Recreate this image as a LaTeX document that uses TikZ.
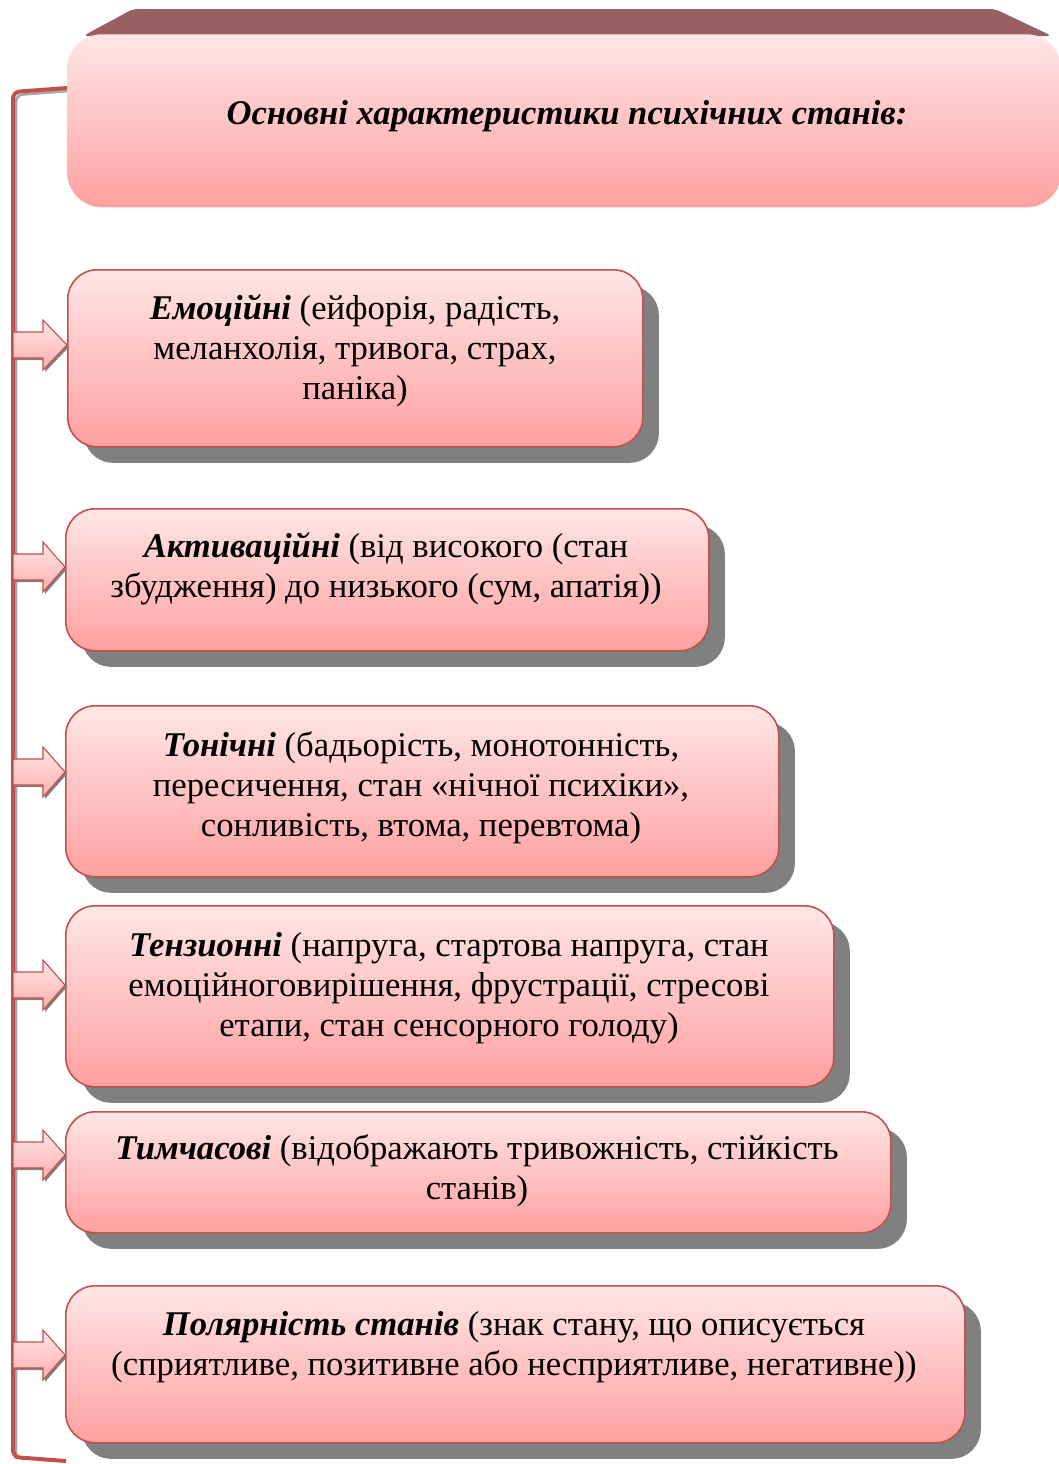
\documentclass[tikz,border=0pt]{standalone}
\usepackage{fontspec}
\setmainfont{Liberation Serif}
\usetikzlibrary{shadows,calc}
\definecolor{boxred}{HTML}{C0504D}
\definecolor{ptop}{HTML}{FFE6E6}
\definecolor{pbot}{HTML}{FFA0A0}
\definecolor{bevel}{HTML}{986060}
\definecolor{shgray}{HTML}{808080}
\tikzset{
  box/.style={draw=boxred, line width=1.2pt, rounded corners=22pt, top color=ptop, bottom color=pbot,
    anchor=north west, inner sep=0pt,
    drop shadow={shadow xshift=12pt, shadow yshift=-12pt, fill=shgray, opacity=1}},
  hdr/.style={rounded corners=26pt, top color=ptop, bottom color=pbot, anchor=north west, inner sep=0pt},
  txt/.style={align=center, font=\fontsize{26}{30}\selectfont, inner sep=0pt},
  htxt/.style={font=\fontsize{26}{30}\selectfont\bfseries\itshape, inner sep=0pt},
  barr/.style={draw=boxred, line width=0.8pt, top color=ptop, bottom color=pbot!80!ptop,
    drop shadow={shadow xshift=1.5pt, shadow yshift=-1.5pt, fill=shgray, opacity=1}},
  bracket/.style={draw=boxred, line width=3pt, rounded corners=5pt},
  brshadow/.style={draw=shgray!70, line width=2pt, rounded corners=5pt},
}
\newcommand\blockarr[2]{%
  \path[barr] (13,#2-13) -- (43,#2-13) -- (43,#2-25) -- (#1.west |- 0,#2) -- (43,#2+25) -- (43,#2+13) -- (13,#2+13) -- cycle;}
\begin{document}
\begin{tikzpicture}[x=0.75pt,y=-0.75pt]
\useasboundingbox (0,0) rectangle (1059,1464);
\clip (0,0) rectangle (1059,1464);
% header
\fill[bevel, rounded corners=4pt] (83,36) -- (133,9) -- (995,9) -- (1052,36) -- cycle;
\node[hdr, minimum width=994*0.75pt, minimum height=173*0.75pt] (h) at (67,34) {};
\node[htxt] (ht) at (567,116) {Основні характеристики психічних станів:};
% boxes
\node[box, minimum width=575*0.75pt, minimum height=177*0.75pt] (b1) at (67,269) {};
\node[box, minimum width=643*0.75pt, minimum height=142*0.75pt] (b2) at (65,508) {};
\node[box, minimum width=713*0.75pt, minimum height=171*0.75pt] (b3) at (65,705) {};
\node[box, minimum width=768*0.75pt, minimum height=181*0.75pt] (b4) at (65,905) {};
\node[box, minimum width=825*0.75pt, minimum height=121*0.75pt] (b5) at (65,1111) {};
\node[box, minimum width=899*0.75pt, minimum height=157*0.75pt] (b6) at (65,1285) {};
% texts
\node[txt] (t1) at (355,351) {\textbf{\textit{Емоційні}} (ейфорія, радість,\\меланхолія, тривога, страх,\\паніка)};
\node[txt] (t2) at (386,569) {\textbf{\textit{Активаційні}} (від високого (стан\\збудження) до низького (сум, апатія))};
\node[txt] (t3) at (421,788) {\textbf{\textit{Тонічні}} (бадьорість, монотонність,\\пересичення, стан «нічної психіки»,\\сонливість, втома, перевтома)};
\node[txt] (t4) at (449,988) {\textbf{\textit{Тензионні}} (напруга, стартова напруга, стан\\емоційноговирішення, фрустрації, стресові\\етапи, стан сенсорного голоду)};
\node[txt] (t5) at (477,1171) {\textbf{\textit{Тимчасові}} (відображають тривожність, стійкість\\станів)};
\node[txt] (t6) at (514,1347) {\textbf{\textit{Полярність станів}} (знак стану, що описується\\(сприятливе, позитивне або несприятливе, негативне))};
% bracket
\coordinate (btop) at (h.west |- 0,88);
\coordinate (bbot) at (66,1461);
\draw[brshadow] ($(btop)+(0,3)$) -- (16,95) -- (16,1459);
\draw[bracket] (btop) -- (13,92) -- (13,1457) -- (bbot);
% arrows
\blockarr{b1}{345}
\blockarr{b2}{567}
\blockarr{b3}{772}
\blockarr{b4}{985}
\blockarr{b5}{1155}
\blockarr{b6}{1355}
\end{tikzpicture}
\end{document}
